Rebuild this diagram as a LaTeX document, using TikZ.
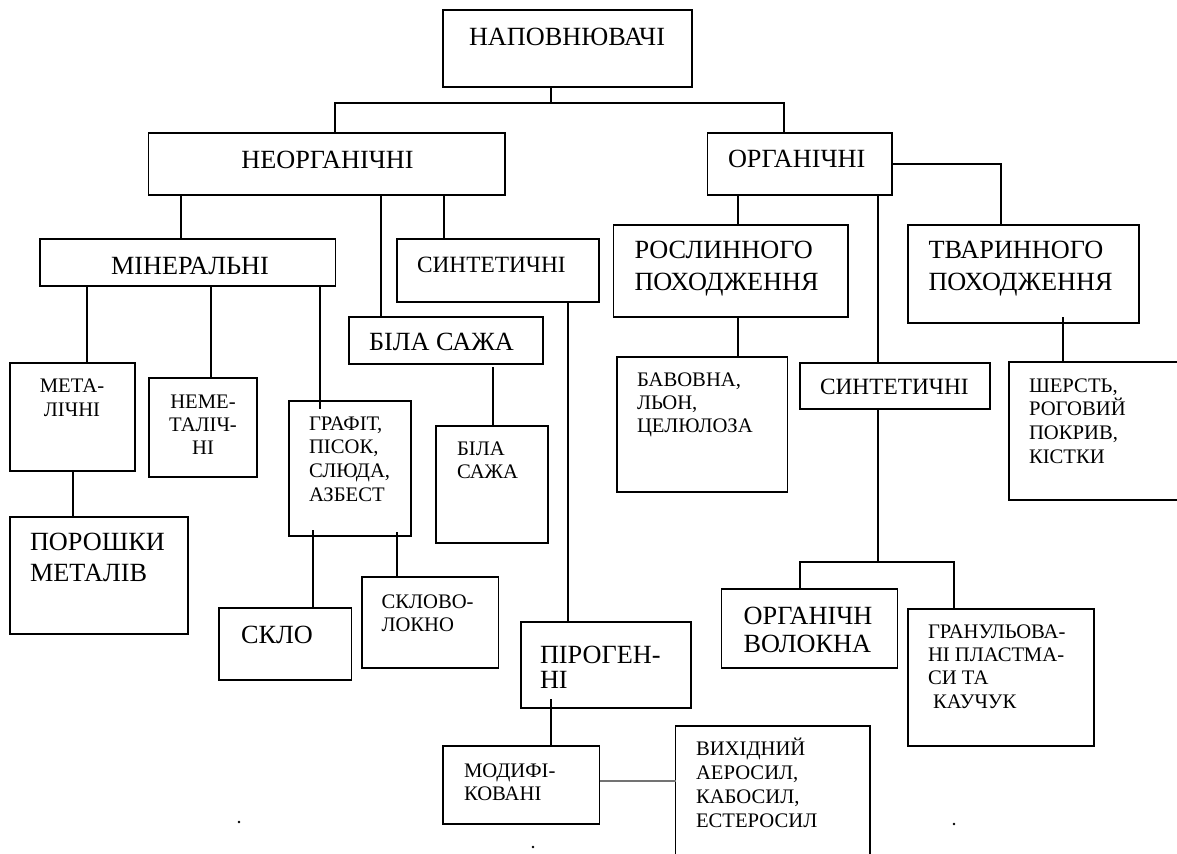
\documentclass[tikz,border=0pt]{standalone}
\usepackage{fontspec}
\setmainfont{Liberation Serif}
\usetikzlibrary{calc}
\newcommand\txl[2]{\vtop{\baselineskip=#1\lineskiplimit=-30pt\lineskip=0pt\halign{##\hfil\cr#2\crcr}}}
\newcommand\txc[2]{\vtop{\baselineskip=#1\lineskiplimit=-30pt\lineskip=0pt\halign{\hfil##\hfil\cr#2\crcr}}}
\newcommand\mybox[5]{\node[box,minimum width={(#4-#2)*0.75pt},minimum height={(#5-#3)*0.75pt}] (#1) at ({(#2+#4)/2},{(#3+#5)/2}) {};}
\begin{document}
\begin{tikzpicture}[x=0.75pt,y=-0.75pt,
  box/.style={draw,line width=1.2pt,inner sep=0pt,outer sep=0pt},
  txt/.style={inner sep=0pt,outer sep=0pt},
  big/.style={txt,font=\fontsize{19.7}{23}\selectfont},
  mid/.style={txt,font=\fontsize{17.5}{21}\selectfont},
  sml/.style={txt,font=\fontsize{15.5}{18}\selectfont},
  ln/.style={line width=1.2pt}]
\useasboundingbox (0,0) rectangle (1177,853);
\clip (0,0) rectangle (1177,853);
% boxes
\mybox{root}{443}{10}{692}{87}
\mybox{neorg}{148.5}{133}{505}{195}
\mybox{org}{707.6}{133}{892}{195}
\mybox{min}{40}{239}{335.6}{286}
\mybox{syn1}{397}{239}{599}{302}
\mybox{bs1}{349}{317}{543}{364}
\mybox{rosl}{613.5}{225}{847.7}{317}
\mybox{tvar}{908}{225}{1139}{323}
\mybox{met}{10}{363}{135}{471}
\mybox{nemet}{149}{378}{257}{477}
\mybox{graf}{289}{401}{411}{536}
\mybox{bs2}{436}{426}{548}{543}
\mybox{por}{10}{517}{188}{634}
\mybox{sklo}{219}{608}{351.5}{680}
\mybox{sklv}{362}{577}{498.5}{668}
\mybox{piro}{521}{622}{691}{708}
\mybox{mod}{443}{746}{599.5}{824}
\mybox{vyh}{675.5}{726}{870}{880}
\mybox{bav}{617}{357}{787.5}{492}
\mybox{syn2}{800}{363}{990}{409}
\mybox{sher}{1009}{362}{1200}{500}
\mybox{orgv}{721.5}{589}{897.5}{668}
\mybox{gran}{907.7}{609}{1094}{745.7}
% texts
\node[big,anchor=base west] (root-t) at (469,45) {\txl{23pt}{НАПОВНЮВАЧІ}};
\node[big,anchor=base] (neorg-t) at (327.5,168) {\txl{23pt}{НЕОРГАНІЧНІ}};
\node[big,anchor=base west] (org-t) at (728,167) {\txl{23pt}{ОРГАНІЧНІ}};
\node[big,anchor=base west] (min-t) at (111,274) {\txl{23pt}{МІНЕРАЛЬНІ}};
\node[mid,anchor=base west] (syn1-t) at (417,272) {\txl{21pt}{СИНТЕТИЧНІ}};
\node[big,anchor=base west] (bs1-t) at (369,350) {\txl{23pt}{БІЛА САЖА}};
\node[big,anchor=base west] (rosl-t) at (634.5,258) {\txl{24pt}{РОСЛИННОГО\cr ПОХОДЖЕННЯ}};
\node[big,anchor=base west] (tvar-t) at (928.5,258) {\txl{24pt}{ТВАРИННОГО\cr ПОХОДЖЕННЯ}};
\node[sml,anchor=base] (met-t) at (72,392) {\txc{18pt}{МЕТА-\cr ЛІЧНІ}};
\node[sml,anchor=base] (nemet-t) at (203,408) {\txc{17.6pt}{НЕМЕ-\cr ТАЛІЧ-\cr НІ}};
\node[sml,anchor=base west] (graf-t) at (309,430) {\txl{17.8pt}{ГРАФІТ,\cr ПІСОК,\cr СЛЮДА,\cr АЗБЕСТ}};
\node[sml,anchor=base west] (bs2-t) at (457,455) {\txl{17.25pt}{БІЛА\cr САЖА}};
\node[big,anchor=base west] (por-t) at (30,550) {\txl{23.25pt}{ПОРОШКИ\cr МЕТАЛІВ}};
\node[big,anchor=base west] (sklo-t) at (241,643) {\txl{23pt}{СКЛО}};
\node[sml,anchor=base west] (sklv-t) at (381.5,608) {\txl{17.25pt}{СКЛОВО-\cr ЛОКНО}};
\node[big,anchor=base west] (piro-t) at (540,663) {\txl{18.75pt}{ПІРОГЕН-\cr НІ}};
\node[sml,anchor=base west] (mod-t) at (464,777) {\txl{17.25pt}{МОДИФІ-\cr КОВАНІ}};
\node[sml,anchor=base west] (vyh-t) at (696,755) {\txl{18pt}{ВИХІДНИЙ\cr АЕРОСИЛ,\cr КАБОСИЛ,\cr ЕСТЕРОСИЛ}};
\node[sml,anchor=base west] (bav-t) at (637,386) {\txl{17.25pt}{БАВОВНА,\cr ЛЬОН,\cr ЦЕЛЮЛОЗА}};
\node[mid,anchor=base west] (syn2-t) at (820,394) {\txl{21pt}{СИНТЕТИЧНІ}};
\node[sml,anchor=base west] (sher-t) at (1029,392) {\txl{17.8pt}{ШЕРСТЬ,\cr РОГОВИЙ\cr ПОКРИВ,\cr КІСТКИ}};
\node[big,anchor=base west] (orgv-t) at (743.7,624) {\txl{21pt}{ОРГАНІЧН\cr ВОЛОКНА}};
\node[sml,anchor=base west] (gran-t) at (928,638) {\txl{17.5pt}{ГРАНУЛЬОВА-\cr НІ ПЛАСТМА-\cr СИ ТА\cr \hskip3.75pt КАУЧУК}};
% connectors
\coordinate (jt) at (551,103);
\draw[ln] (root.south -| jt) -- (jt);
\draw[ln] (neorg.north -| 335,0) |- (jt) -| (org.north -| 784,0);
\draw[ln] (neorg.south -| 181,0) -- (min.north -| 181,0);
\draw[ln] (neorg.south -| 381,0) -- (bs1.north -| 381,0);
\draw[ln] (neorg.south -| 444,0) -- (syn1.north -| 444,0);
\draw[ln] (min.south -| 87,0) -- (met.north -| 87,0);
\draw[ln] (min.south -| 211,0) -- (nemet.north -| 211,0);
\draw[ln] (min.south -| 320,0) -- ($(graf.north -| 320,0)+(0,8)$);
\draw[ln] (met.south -| 73,0) -- (por.north -| 73,0);
\draw[ln] ($(bs1.south -| 493,0)+(0,3)$) -- (bs2.north -| 493,0);
\draw[ln] (syn1.south -| 568,0) -- (piro.north -| 568,0);
\draw[ln] ($(graf.south -| 313,0)+(0,-6)$) -- (sklo.north -| 313,0);
\draw[ln] ($(graf.south -| 397,0)+(0,-4)$) -- (sklv.north -| 397,0);
\draw[ln] ($(piro.south -| 551,0)+(0,-9)$) -- (mod.north -| 551,0);
\draw[line width=1pt,black!55] (mod.east |- 0,781) -- (vyh.west |- 0,781);
\draw[ln] (org.south -| 738,0) -- (rosl.north -| 738,0);
\draw[ln] (org.south -| 878,0) -- (syn2.north -| 878,0);
\draw[ln] (org.east) -| (tvar.north -| 1001,0);
\draw[ln] (rosl.south -| 738,0) -- (bav.north -| 738,0);
\draw[ln] ($(tvar.south -| 1063,0)+(0,-6)$) -- (sher.north -| 1063,0);
\coordinate (js) at (878,562);
\draw[ln] (syn2.south -| js) -- (js);
\draw[ln] (orgv.north -| 800,0) |- (js) -| (gran.north -| 954,0);
% stray dots
\fill (239,822) circle[radius=1pt];
\fill (533,847) circle[radius=1pt];
\fill (954,824) circle[radius=1pt];
\end{tikzpicture}
\end{document}
